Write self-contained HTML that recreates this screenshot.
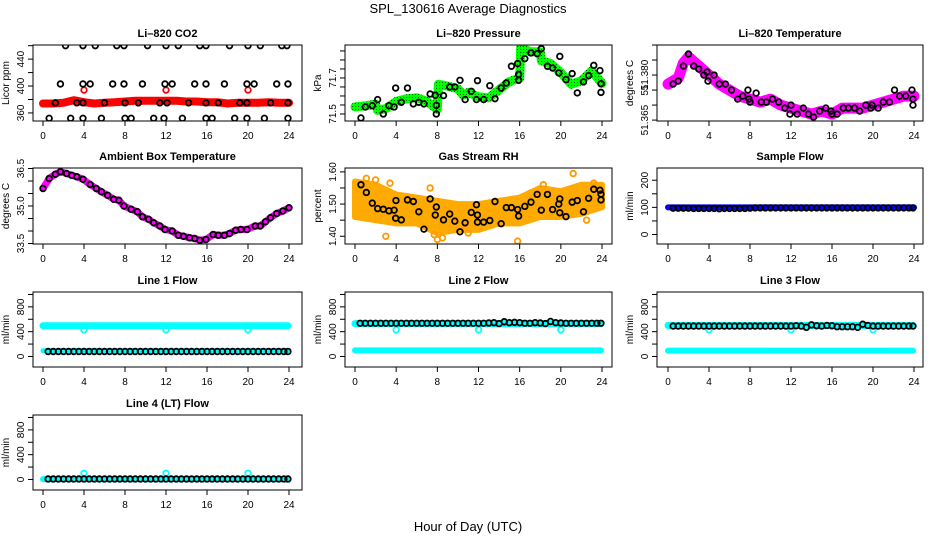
<!DOCTYPE html>
<html><head><meta charset="utf-8"><style>
html,body{margin:0;padding:0;background:#fff;}
svg{display:block;font-family:"Liberation Sans",Arial,sans-serif;}
</style></head><body>
<svg id="chart" width="936" height="540" viewBox="0 0 936 540">
<defs>
<pattern id="dotGreen" width="3" height="3" patternUnits="userSpaceOnUse"><rect width="3" height="3" fill="#00ff00"/><rect x="1" y="1" width="1" height="1" fill="#006000"/></pattern>
</defs>
<text x="468" y="13" text-anchor="middle" font-size="13">SPL_130616  Average Diagnostics</text>
<text x="468" y="531" text-anchor="middle" font-size="13">Hour of Day (UTC)</text>
</svg>
<script>
// ---------- data ----------
const xTicks = [0,4,8,12,16,20,24];
// CO2
const co2BandHours = [0,1,2,3,4,5,6,7,8,9,10,11,12,13,14,15,16,17,18,19,20,21,22,23,24];
const co2Band = [374,374,375,379,376,374,375,376,377,378,378,378,378,378,377,377,376,376,374,375,375,375,376,375,375];
const co2BlackHours = [2.2,3.9,5.1,7.2,7.9,10.2,12.0,13.2,15.3,15.9,18.2,20.0,21.2,23.3,23.8, 1.7,3.9,4.6,6.8,7.9,9.7,11.9,12.6,14.8,15.9,17.7,19.9,20.6,22.8,23.9, 0.6,2.7,3.9,5.7,8.0,8.6,10.8,11.8,13.6,15.9,16.5,18.7,19.9,21.6,23.9, 1.2,3.3,3.9,6.0,8.0,9.3,11.4,12.1,14.2,15.9,17.1,19.2,19.9,22.2,23.9];
const co2Black = [460,460,460,460,460,460,460,460,460,460,460,460,460,460,460, 403,403,403,403,403,403,403,403,403,403,403,403,403,403,403, 352,352,352,352,352,352,352,352,352,352,352,352,352,352,352, 375,375,375,375,375,375,375,375,375,375,375,375,375,375,375];
const co2RedHours = [4,12,20];
const co2Red = [394,394,394];
// Pressure
const presBandHours = [0,1,2,2.2,3,4,5,6,7,8,8.1,9,10,10.5,11,12,13,14,15,16,16.1,17,18,18.1,19,20,21,22,23,24];
const presBand = [71.54,71.545,71.555,71.52,71.53,71.57,71.585,71.59,71.57,71.525,71.665,71.655,71.64,71.605,71.62,71.595,71.59,71.635,71.68,71.70,71.87,71.845,71.845,71.795,71.78,71.73,71.665,71.685,71.74,71.67];
const presHours = [0.58,1.0,1.68,2.2,2.75,3.3,3.8,3.95,4.5,5.1,5.67,6.2,6.7,7.3,7.8,7.9,7.9,8.6,9.2,9.7,10.2,10.7,11.3,11.8,11.9,12.5,13.1,13.6,14.2,14.7,15.2,15.8,15.9,15.9,16.5,17.1,17.7,18.1,18.7,19.2,19.9,19.8,20.5,21.1,21.6,22.2,22.7,23.2,23.8,23.9,23.9];
const presVals = [71.478,71.539,71.546,71.58,71.5,71.546,71.539,71.644,71.565,71.644,71.556,71.565,71.556,71.611,71.604,71.5,71.548,71.602,71.65,71.65,71.687,71.58,71.626,71.58,71.685,71.58,71.657,71.585,71.644,71.672,71.765,71.78,71.72,71.687,71.807,71.839,71.835,71.863,71.765,71.755,71.82,71.728,71.691,71.724,71.617,71.678,71.713,71.77,71.741,71.668,71.62];
// Li-820 temperature
const ltBandHours = [0,1,1.5,2,3,4,5,6,7,8,9,10,11,12,13,14,15,16,17,18,19,20,21,22,23,24];
const ltBand = [51.377,51.379,51.384,51.386,51.383,51.380,51.377,51.375,51.373,51.372,51.371,51.372,51.370,51.369,51.368,51.367,51.368,51.367,51.369,51.369,51.369,51.370,51.371,51.372,51.373,51.373];
const ltHours = [0.5,1.0,1.5,2.0,2.5,3.0,3.5,3.8,3.9,4.5,5.0,5.6,6.2,6.8,7.3,7.8,7.9,8.0,8.6,9.1,9.6,10.2,10.8,11.4,12.0,11.9,12.6,13.2,13.7,14.2,14.8,15.4,15.9,16.0,16.5,17.1,17.6,18.2,18.7,19.3,19.8,19.9,20.5,21.0,21.6,22.1,22.6,23.2,23.8,23.9,23.9];
const ltVals = [51.377,51.378,51.383,51.387,51.383,51.382,51.380,51.381,51.378,51.380,51.377,51.377,51.375,51.372,51.373,51.375,51.372,51.371,51.374,51.371,51.371,51.372,51.371,51.369,51.370,51.367,51.367,51.369,51.367,51.366,51.368,51.369,51.368,51.367,51.367,51.369,51.369,51.369,51.368,51.370,51.369,51.370,51.369,51.371,51.371,51.375,51.373,51.373,51.375,51.372,51.370];
// Ambient box temperature
const abHours = [0,0.6,1.2,1.7,2.3,2.8,3.3,3.9,4.6,5.2,5.7,6.3,6.9,7.4,7.9,8.6,9.2,9.7,10.3,10.8,11.4,11.9,12.6,13.2,13.7,14.3,14.8,15.3,15.9,16.6,17.1,17.7,18.2,18.8,19.3,19.9,20.7,21.2,21.7,22.2,22.8,23.4,24];
const abVals = [35.7,36.1,36.27,36.37,36.3,36.23,36.17,36.07,35.86,35.7,35.57,35.43,35.27,35.23,35.0,34.87,34.77,34.57,34.47,34.33,34.2,34.06,34.0,33.83,33.79,33.73,33.7,33.63,33.66,33.86,33.83,33.83,33.9,34.03,34.06,34.06,34.2,34.2,34.37,34.53,34.7,34.8,34.93];
// Gas stream RH
const rhBandHours = [0,2,4,6,8,10,12,14,16,18,20,22,24];
const rhBandLo = [1.46,1.45,1.44,1.44,1.41,1.42,1.42,1.44,1.44,1.46,1.46,1.47,1.49];
const rhBandHi = [1.57,1.56,1.53,1.52,1.51,1.50,1.50,1.51,1.52,1.55,1.54,1.56,1.56];
const rhOutHours = [1.1,2.0,3.0,3.4,7.3,7.7,8.0,8.5,11.0,15.8,18.3,21.2,22.5,23.2];
const rhOutVals = [1.58,1.575,1.40,1.565,1.55,1.405,1.39,1.395,1.41,1.385,1.56,1.595,1.45,1.565];
const rhHours = [0.58,1.1,1.68,2.2,2.75,3.3,3.8,3.95,3.98,4.5,5.1,5.67,6.2,6.7,7.3,7.8,7.9,8.6,9.2,9.7,10.2,10.7,11.3,11.8,11.9,11.9,12.5,13.1,13.6,14.2,14.7,15.2,15.8,15.9,16.5,17.1,17.7,18.1,18.7,19.2,19.9,19.8,19.9,20.5,21.1,21.6,22.2,22.7,23.2,23.8,23.9,23.9];
const rhVals = [1.56,1.536,1.503,1.486,1.484,1.479,1.481,1.456,1.511,1.451,1.513,1.508,1.476,1.422,1.516,1.466,1.491,1.451,1.469,1.447,1.414,1.442,1.474,1.498,1.466,1.444,1.444,1.449,1.508,1.439,1.489,1.489,1.483,1.463,1.493,1.506,1.53,1.481,1.53,1.483,1.516,1.5,1.473,1.461,1.506,1.511,1.476,1.518,1.546,1.543,1.531,1.513];
// Flows (black circles sampled every half hour)
const flowHours = [0.5,1,1.5,2,2.5,3,3.5,4,4.5,5,5.5,6,6.5,7,7.5,8,8.5,9,9.5,10,10.5,11,11.5,12,12.5,13,13.5,14,14.5,15,15.5,16,16.5,17,17.5,18,18.5,19,19.5,20,20.5,21,21.5,22,22.5,23,23.5,23.9];
const sampleFlow = [97,97,97,97,96,96,96,96,96,95,96,96,96,96,96,97,98,98,98,98,98,98,98,98,98,98,98,98,98,98,98,98,98,98,98,98,98,98,98,98,98,98,98,98,98,98,98,98];
const line1Black = [80,80,80,80,80,80,80,80,80,80,80,80,80,80,80,80,80,80,80,80,80,80,80,80,80,80,80,80,80,80,80,80,80,80,80,80,80,80,80,80,80,80,80,80,80,80,80,80];
const line2Black = [535,535,535,535,535,535,535,535,535,535,535,535,535,535,535,535,535,535,535,535,535,535,535,535,535,540,545,530,560,545,550,545,535,535,545,540,530,565,545,540,535,535,535,535,535,535,535,535];
const line3Black = [490,490,490,490,490,490,490,490,490,490,490,490,490,490,490,490,490,490,490,490,490,490,490,490,495,490,470,510,495,490,500,495,480,480,480,480,470,520,500,490,490,490,490,490,490,490,490,490];
const line4Black = [8,8,8,8,8,8,8,8,8,8,8,8,8,8,8,8,8,8,8,8,8,8,8,8,8,8,8,8,8,8,8,8,8,8,8,8,8,8,8,8,8,8,8,8,8,8,8,8];
const cyanDipHours = [4,12,20];
const line1CyanHi = 495, line1CyanLo = 92;
const line2CyanHi = 530, line2CyanLo = 98;
const line3CyanHi = 500, line3CyanLo = 94;
const line4CyanLo = 5;
const cyanDip = [430,430,430];
const line4Spikes = [100,100,100];

// ---------- layout ----------
const NS = 'http://www.w3.org/2000/svg';
const svg = document.getElementById('chart');
const cols = [{l:33,r:302,x0:43,x24:289},{l:345,r:612,x0:355,x24:602},{l:657,r:923,x0:668,x24:914}];
const rows = [{t:45,b:121},{t:168,b:244},{t:292,b:367},{t:415,b:490}];

function el(tag, attrs, parent){
  const e = document.createElementNS(NS, tag);
  for (const k in attrs) e.setAttribute(k, attrs[k]);
  (parent||svg).appendChild(e);
  return e;
}

function makePanel(ci, ri, name, title, ylab, ymin, ymax, ticks, labels){
  const c = cols[ci], r = rows[ri];
  const g = el('g', {});
  
  
  const xs = h => c.x0 + h*(c.x24-c.x0)/24;
  const ys = v => r.b - (v-ymin)/(ymax-ymin)*(r.b-r.t);
  const t = el('text', {x:(c.l+c.r)/2, y:r.t-8, 'text-anchor':'middle', 'font-size':11, 'font-weight':'bold'}, g);
  t.textContent = title;
  
  
  const yt = el('text', {x:0, y:0, 'text-anchor':'middle', 'font-size':10, transform:`translate(${c.l-24},${(r.t+r.b)/2}) rotate(-90)`}, g);
  yt.textContent = ylab;
  
  
  const xa = el('g', {}, g);
  
  
  el('line', {x1:xs(0), x2:xs(24), y1:r.b, y2:r.b, stroke:'#000'}, xa);
  xTicks.forEach(h=>{
    el('line', {x1:xs(h), x2:xs(h), y1:r.b, y2:r.b+5, stroke:'#000'}, xa);
    const lt = el('text', {x:xs(h), y:r.b+18, 'text-anchor':'middle', 'font-size':10}, xa);
    lt.textContent = h;
  });
  const ya = el('g', {}, g);
  
  
  el('line', {x1:c.l, x2:c.l, y1:ys(ticks[0]), y2:ys(ticks[ticks.length-1]), stroke:'#000'}, ya);
  ticks.forEach(v=>{
    el('line', {x1:c.l-5, x2:c.l, y1:ys(v), y2:ys(v), stroke:'#000'}, ya);
  });
  labels.forEach(v=>{
    const lt = el('text', {x:0, y:0, 'text-anchor':'middle', 'font-size':10, transform:`translate(${c.l-9},${ys(v[0])}) rotate(-90)`}, ya);
    lt.textContent = v[1];
  });
  const clip = 'clip' + ci + ri;
  const cp = el('clipPath', {id:clip}, g);
  el('rect', {x:c.l, y:r.t, width:c.r-c.l, height:r.b-r.t}, cp);
  const plot = el('g', {'clip-path':`url(#${clip})`}, g);
  el('rect', {x:c.l, y:r.t, width:c.r-c.l, height:r.b-r.t, fill:'none', stroke:'#000'}, g);
  return {g, plot, xs, ys};
}
function band(p, hours, vals, color, w, nm){
  const d = hours.map((h,i)=>(i?'L':'M')+p.xs(h).toFixed(1)+' '+p.ys(vals[i]).toFixed(1)).join(' ');
  const e = el('path', {d, fill:'none', stroke:color, 'stroke-width':w, 'stroke-linejoin':'round', 'stroke-linecap':'round'}, p.plot);
  
  
}
function hband(p, h0, h1, v, color, w, nm){
  const e = el('line', {x1:p.xs(h0), x2:p.xs(h1), y1:p.ys(v), y2:p.ys(v), stroke:color, 'stroke-width':w, 'stroke-linecap':'round'}, p.plot);
  
  
}
function pts(p, hours, vals, color, nm, r){
  const g = el('g', {}, p.plot);
  
  
  hours.forEach((h,i)=>{
    const c = el('circle', {cx:p.xs(h), cy:p.ys(vals[i]), r:r||2.8, fill:'none', stroke:color, 'stroke-width':1.8}, g);
    
    
  });
}
const flowTicks=[0,200,400,600,800,1000], flowLabels=[[0,'0'],[400,'400'],[800,'800']];

// CO2
let p = makePanel(0,0,'co2','Li\u2013820 CO2','Licor ppm',348,461,[360,380,400,420,440,460],[[360,'360'],[400,'400'],[440,'440']]);
band(p, co2BandHours, co2Band, '#ff0000', 8, 'co2-red-band');
pts(p, co2RedHours, co2Red, '#ff0000', 'co2-red-points');
pts(p, co2BlackHours, co2Black, '#000', 'co2-black-points');
// Pressure
p = makePanel(1,0,'pressure','Li\u2013820 Pressure','kPa',71.461,71.883,[71.5,71.55,71.6,71.65,71.7,71.75,71.8,71.85],[[71.5,'71.5'],[71.7,'71.7']]);
band(p, presBandHours, presBand, 'url(#dotGreen)', 9, 'pressure-green-band');
pts(p, presHours, presVals, '#000', 'pressure-black-points');
// Li temp
p = makePanel(2,0,'li-temp','Li\u2013820 Temperature','degrees C',51.3647,51.3900,[51.365,51.370,51.375,51.380,51.385,51.390],[[51.365,'51.365'],[51.375,'51'],[51.380,'51.380']]);
band(p, ltBandHours, ltBand, '#ff00ff', 11, 'li-temp-magenta-band');
pts(p, ltHours, ltVals, '#000', 'li-temp-black-points');
// Ambient box
p = makePanel(0,1,'ambient','Ambient Box Temperature','degrees C',33.48,36.52,[33.5,34,34.5,35,35.5,36,36.5],[[33.5,'33.5'],[35.0,'35.0'],[36.5,'36.5']]);
band(p, abHours, abVals, '#ff00ff', 7, 'ambient-magenta-band');
pts(p, abHours, abVals, '#000', 'ambient-black-points');
// Gas RH
p = makePanel(1,1,'gas-rh','Gas Stream RH','percent',1.376,1.612,[1.40,1.45,1.50,1.55,1.60],[[1.40,'1.40'],[1.50,'1.50'],[1.60,'1.60']]);
{
  const d = rhBandHours.map((h,i)=>(i?'L':'M')+p.xs(h)+' '+p.ys(rhBandHi[i])).join(' ') + ' ' +
    rhBandHours.slice().reverse().map((h,i)=>'L'+p.xs(h)+' '+p.ys(rhBandLo[rhBandHours.length-1-i])).join(' ') + ' Z';
  const e = el('path', {d, fill:'#ffaa00', stroke:'#ffaa00', 'stroke-width':6, 'stroke-linejoin':'round'}, p.plot);
  
  
}
pts(p, rhOutHours, rhOutVals, '#ff9900', 'gas-rh-orange-outliers');
pts(p, rhHours, rhVals, '#000', 'gas-rh-black-points');
// Sample flow
p = makePanel(2,1,'sample-flow','Sample Flow','ml/min',-35,245,[0,50,100,150,200],[[0,'0'],[100,'100'],[200,'200']]);
hband(p, 0, 24, 100, '#0000ff', 6, 'sample-flow-blue-band');
pts(p, flowHours, sampleFlow, '#000', 'sample-flow-black-points');
// Line 1
p = makePanel(0,2,'line1','Line 1 Flow','ml/min',-170,1040,flowTicks,flowLabels);
hband(p, 0, 23.9, line1CyanHi, '#00ffff', 7, 'line1-cyan-high');
hband(p, 0, 23.9, line1CyanLo, '#00ffff', 5, 'line1-cyan-low');
pts(p, cyanDipHours, cyanDip, '#00ffff', 'line1-cyan-dips');
pts(p, flowHours, line1Black, '#000', 'line1-black-points');
// Line 2
p = makePanel(1,2,'line2','Line 2 Flow','ml/min',-170,1040,flowTicks,flowLabels);
hband(p, 0, 23.9, line2CyanHi, '#00ffff', 7, 'line2-cyan-high');
hband(p, 0, 23.9, line2CyanLo, '#00ffff', 6, 'line2-cyan-low');
pts(p, cyanDipHours, cyanDip, '#00ffff', 'line2-cyan-dips');
pts(p, flowHours, line2Black, '#000', 'line2-black-points');
// Line 3
p = makePanel(2,2,'line3','Line 3 Flow','ml/min',-170,1040,flowTicks,flowLabels);
hband(p, 0, 23.9, line3CyanHi, '#00ffff', 7, 'line3-cyan-high');
hband(p, 0, 23.9, line3CyanLo, '#00ffff', 6, 'line3-cyan-low');
pts(p, cyanDipHours, cyanDip, '#00ffff', 'line3-cyan-dips');
pts(p, flowHours, line3Black, '#000', 'line3-black-points');
// Line 4
p = makePanel(0,3,'line4','Line 4 (LT) Flow','ml/min',-170,1040,flowTicks,flowLabels);
hband(p, 0, 23.9, line4CyanLo, '#00ffff', 6, 'line4-cyan-low');
pts(p, cyanDipHours, line4Spikes, '#00ffff', 'line4-cyan-spikes');
pts(p, flowHours, line4Black, '#000', 'line4-black-points');
</script>
</body></html>
